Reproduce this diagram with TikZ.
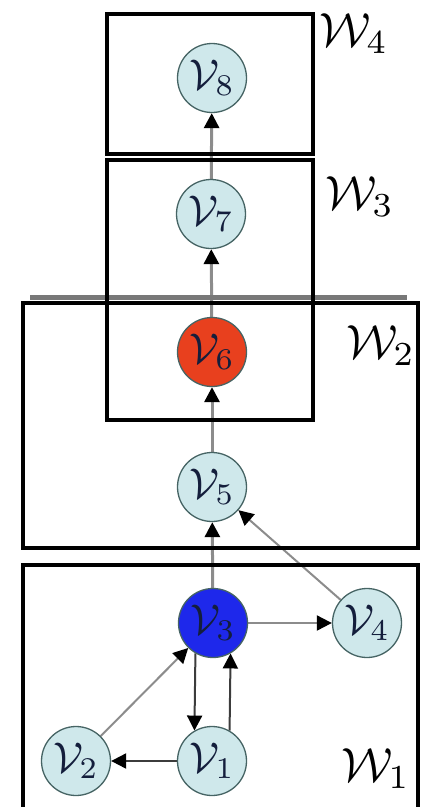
\documentclass[tikz,border=0pt]{standalone}
\usepackage{graphicx}
\usetikzlibrary{arrows.meta}
\definecolor{nfill}{RGB}{207,232,235}
\definecolor{nborder}{RGB}{70,100,100}
\definecolor{ntext}{RGB}{20,30,60}
\definecolor{nblue}{RGB}{30,40,235}
\definecolor{nred}{RGB}{232,64,30}
\definecolor{egray}{RGB}{140,140,140}
\definecolor{edark}{RGB}{60,60,60}
\definecolor{sepgray}{RGB}{120,120,120}
\newcommand{\vlab}[1]{\scalebox{4.3}{$\mathcal{V}_{#1}$}}
\newcommand{\wlab}[1]{\scalebox{4.8}{$\mathcal{W}_{#1}$}}
\pgfdeclarelayer{bg}
\pgfsetlayers{bg,main}
\begin{document}
\begin{tikzpicture}[x=1pt,y=-1pt,
  vnode/.style={circle,draw=nborder,line width=1.3pt,fill=nfill,minimum size=69pt,inner sep=0pt,text=ntext},
  edge/.style={draw=egray,line width=2pt,-{Triangle[width=15pt,length=15pt,color=black]}},
  spine/.style={edge,line width=3pt},
  darkedge/.style={edge,draw=edark},
  wbox/.style={draw=black,line width=3.5pt},
  wlabel/.style={inner sep=0pt,anchor=base west}]
\useasboundingbox (0,0) rectangle (423,807);
% nodes
\node[vnode] (v8) at (212,78) {\vlab{8}};
\node[vnode] (v7) at (211,214) {\vlab{7}};
\node[vnode,fill=nred] (v6) at (212,352) {\vlab{6}};
\node[vnode] (v5) at (212,487) {\vlab{5}};
\node[vnode,fill=nblue] (v3) at (213,623) {\vlab{3}};
\node[vnode] (v4) at (367,623) {\vlab{4}};
\node[vnode] (v2) at (76,761) {\vlab{2}};
\node[vnode] (v1) at (212,761) {\vlab{1}};
% labels
\node[wlabel] (w4) at (319,46) {\wlab{4}};
\node[wlabel] (w3) at (325,209) {\wlab{3}};
\node[wlabel] (w2) at (346,358) {\wlab{2}};
\node[wlabel] (w1) at (341,781) {\wlab{1}};
\begin{pgfonlayer}{bg}
  % edges
  \draw[spine] (v7) -- (v8);
  \draw[spine] (v6) -- (v7);
  \draw[spine] (v5) -- (v6);
  \draw[spine] (v3) -- (v5);
  \draw[edge] (v4) -- (v5);
  \draw[edge] (v3) -- (v4);
  \draw[edge] (v2) -- (v3);
  \draw[darkedge] (v1) -- (v2);
  \draw[darkedge] (v3.240) -- (v1.120);
  \draw[darkedge] (v1.60) -- (v3.300);
  % boxes
  \draw[draw=sepgray,line width=5pt] (30,297) -- (407,297);
  \draw[wbox] (107,14) rectangle (313,154);
  \draw[wbox] (107,160) rectangle (313,420);
  \draw[wbox] (23,303) rectangle (418,548);
  \draw[wbox] (23,810) -- (23,565) -- (418,565) -- (418,810);
\end{pgfonlayer}
\end{tikzpicture}
\end{document}
